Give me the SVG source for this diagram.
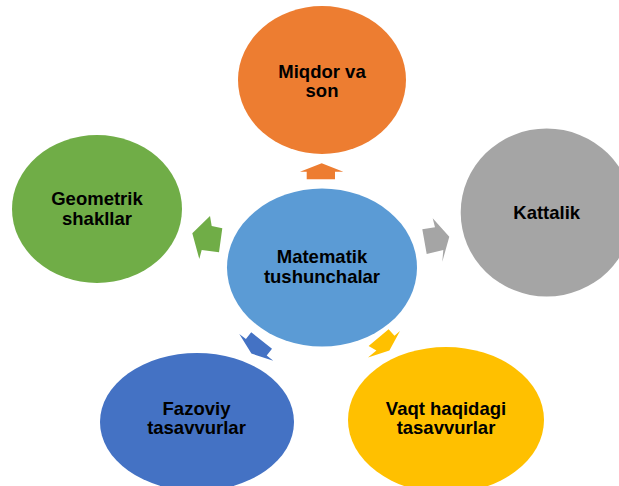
<svg xmlns="http://www.w3.org/2000/svg" width="619" height="486" viewBox="0 0 619 486">
<style>
text{font-family:"Liberation Sans",Arial,sans-serif;font-weight:bold;font-size:18.5px;fill:#000;text-anchor:middle}
</style>
<rect width="619" height="486" fill="#fff"/>
<g id="connectors">
<polygon fill="#ED7D31" points="321.7,163.3 343.3,171.7 335,171.7 335,179.3 306.7,179.3 306.7,171.7 300,171.7"/>
<polygon fill="#A5A5A5" points="449.3,236.7 432.7,218.3 435,227.3 422.3,229.3 426.7,254 443.3,250 442.3,261.7"/>
<polygon fill="#FFC000" points="389.4,350.4 368,357.5 376.4,350.6 368.6,346 388.6,329.2 394.5,335.8 400,331"/>
<polygon fill="#4472C4" points="251.4,353.6 273.3,360.7 266.7,355.5 272,348.7 251.2,332.3 245.9,339.1 239.3,334"/>
<polygon fill="#70AD47" points="192.3,233.3 210,216 211.7,226 222.3,228.3 219,252.3 201.7,250 199.3,259"/>
</g>
<g id="center">
<ellipse cx="322" cy="267.5" rx="95" ry="79" fill="#5B9BD5"/>
<text x="322" y="263.3">Matematik</text>
<text x="322" y="282.7">tushunchalar</text>
</g>
<g id="miqdor">
<ellipse cx="322" cy="80" rx="84" ry="74" fill="#ED7D31"/>
<text x="322" y="77.7">Miqdor va</text>
<text x="322" y="97.3">son</text>
</g>
<g id="kattalik">
<ellipse cx="546.7" cy="212.5" rx="86" ry="84" fill="#A5A5A5"/>
<text x="546.7" y="219">Kattalik</text>
</g>
<g id="vaqt">
<ellipse cx="446" cy="420" rx="98" ry="73" fill="#FFC000"/>
<text x="446" y="415">Vaqt haqidagi</text>
<text x="446" y="434">tasavvurlar</text>
</g>
<g id="fazoviy">
<ellipse cx="197" cy="422" rx="97" ry="69" fill="#4472C4"/>
<text x="196.5" y="415">Fazoviy</text>
<text x="196.5" y="434">tasavvurlar</text>
</g>
<g id="geometrik">
<ellipse cx="97" cy="209" rx="85" ry="74" fill="#70AD47"/>
<text x="97" y="204.5">Geometrik</text>
<text x="97" y="225">shakllar</text>
</g>
</svg>
